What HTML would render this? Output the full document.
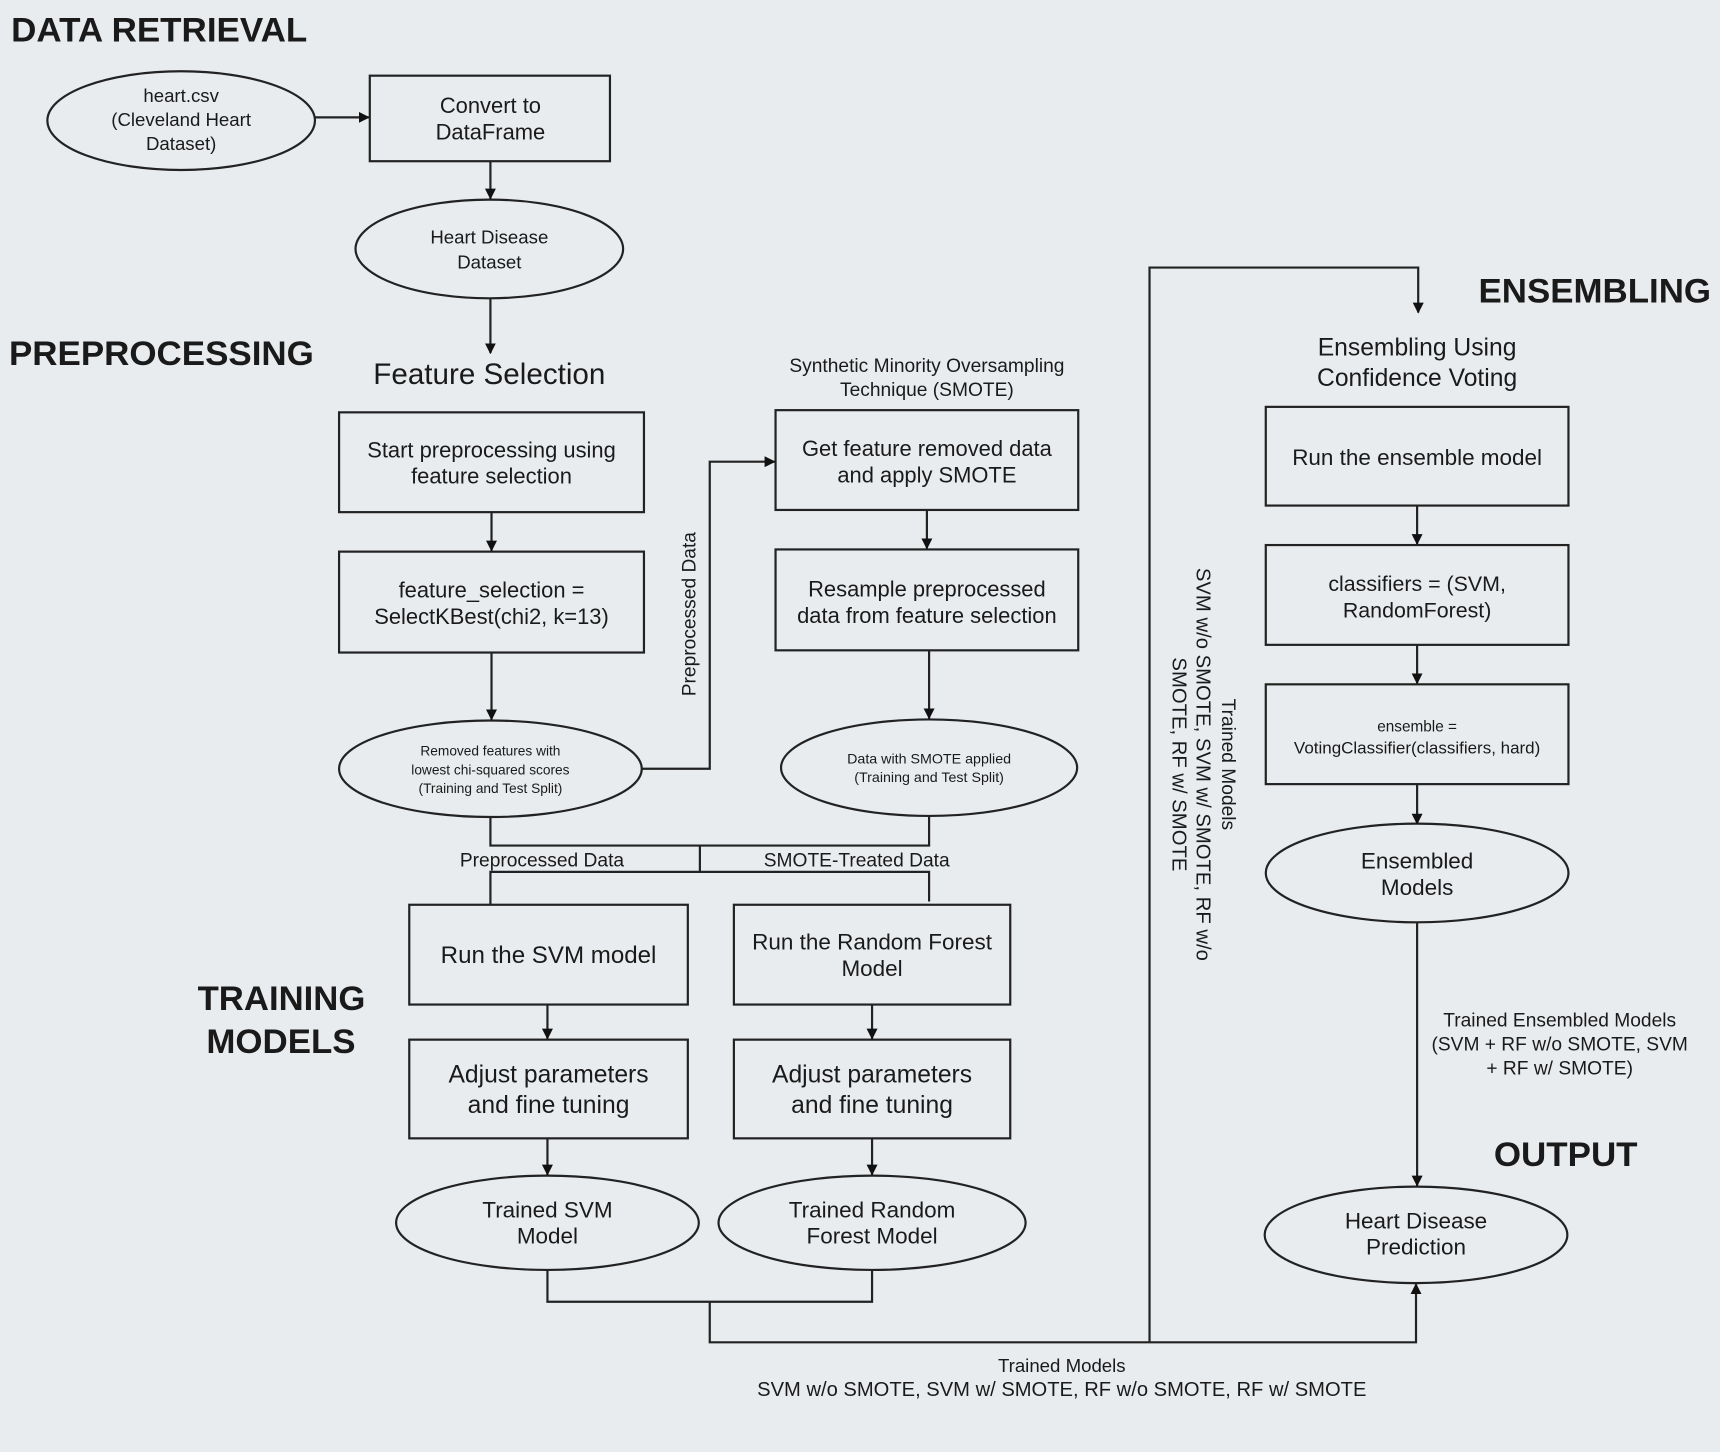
<!DOCTYPE html>
<html><head><meta charset="utf-8"><style>
html,body{margin:0;padding:0;background:#e9ecef;}
svg{display:block;}
text{font-family:"Liberation Sans",Arial,sans-serif;fill:#1a1a1a;}
.b{font-weight:bold;font-size:31px;}
</style></head><body>
<svg width="1720" height="1452" viewBox="0 0 1568 1324" xmlns="http://www.w3.org/2000/svg">
<defs><marker id="a" markerWidth="10" markerHeight="10" refX="9" refY="5" orient="auto" markerUnits="userSpaceOnUse"><path d="M0,0 L10,5 L0,10 z" fill="#111"/></marker></defs>
<rect width="1568" height="1324" fill="#e9ecef"/>
<g fill="none" stroke="#222" stroke-width="2">
<ellipse cx="165" cy="110" rx="122" ry="45"/>
<rect x="337" y="69" width="219" height="78"/>
<ellipse cx="446" cy="227" rx="122" ry="45"/>
<rect x="309" y="376" width="278" height="91"/>
<rect x="309" y="503" width="278" height="92"/>
<ellipse cx="447" cy="701" rx="138" ry="44"/>
<rect x="707" y="374" width="276" height="91"/>
<rect x="707" y="501" width="276" height="92"/>
<ellipse cx="847" cy="700" rx="135" ry="44"/>
<rect x="373" y="825" width="254" height="91"/>
<rect x="669" y="825" width="252" height="91"/>
<rect x="373" y="948" width="254" height="90"/>
<rect x="669" y="948" width="252" height="90"/>
<ellipse cx="499" cy="1115" rx="138" ry="43"/>
<ellipse cx="795" cy="1115" rx="140" ry="43"/>
<rect x="1154" y="371" width="276" height="90"/>
<rect x="1154" y="497" width="276" height="91"/>
<rect x="1154" y="624" width="276" height="91"/>
<ellipse cx="1292" cy="796" rx="138" ry="45"/>
<ellipse cx="1291" cy="1126" rx="138" ry="44"/>
</g>
<g fill="none" stroke="#222" stroke-width="2" marker-end="url(#a)">
<path d="M287,107 H336"/>
<path d="M447,147 V181"/>
<path d="M447,272 V322"/>
<path d="M448,467 V502"/>
<path d="M448,595 V656"/>
<path d="M585,701 H647 V421 H706"/>
<path d="M845,465 V500"/>
<path d="M847,593 V655"/>
<path d="M499,916 V947"/>
<path d="M795,916 V947"/>
<path d="M499,1038 V1071"/>
<path d="M795,1038 V1071"/>
<path d="M647,1187 V1224 H1291 V1171"/>
<path d="M1048,1224 V244 H1293 V285"/>
<path d="M1292,461 V496"/>
<path d="M1292,588 V623"/>
<path d="M1292,715 V751"/>
<path d="M1292,841 V1081"/>
</g>
<g fill="none" stroke="#222" stroke-width="2">
<path d="M447,745 V771 H847 V744"/>
<path d="M638,771 V795"/>
<path d="M447,825 V795 H847 V822"/>
<path d="M499,1158 V1187 H795 V1158"/>
</g>
<text class="b" x="10" y="38" textLength="270" lengthAdjust="spacingAndGlyphs">DATA RETRIEVAL</text>
<text class="b" x="8" y="333" textLength="278" lengthAdjust="spacingAndGlyphs">PREPROCESSING</text>
<text class="b" x="1348" y="276" textLength="212" lengthAdjust="spacingAndGlyphs">ENSEMBLING</text>
<text class="b" x="180" y="921" textLength="153" lengthAdjust="spacingAndGlyphs">TRAINING</text>
<text class="b" x="188" y="960" textLength="136" lengthAdjust="spacingAndGlyphs">MODELS</text>
<text class="b" x="1362" y="1063" textLength="131" lengthAdjust="spacingAndGlyphs">OUTPUT</text>
<g text-anchor="middle" font-size="17">
<text x="165" y="93">heart.csv</text><text x="165" y="115">(Cleveland Heart</text><text x="165" y="137">Dataset)</text>
<text x="447" y="103" font-size="20">Convert to</text><text x="447" y="127" font-size="20">DataFrame</text>
<text x="446" y="222">Heart Disease</text><text x="446" y="245">Dataset</text>
<text x="446" y="350" font-size="27">Feature Selection</text>
<text x="448" y="417" font-size="20">Start preprocessing using</text><text x="448" y="441" font-size="20">feature selection</text>
<text x="448" y="545" font-size="20">feature_selection =</text><text x="448" y="569" font-size="20">SelectKBest(chi2, k=13)</text>
<text x="447" y="689" font-size="12.5">Removed features with</text><text x="447" y="706" font-size="12.5">lowest chi-squared scores</text><text x="447" y="723" font-size="12.5">(Training and Test Split)</text>
<text x="845" y="339" font-size="17.5">Synthetic Minority Oversampling</text><text x="845" y="361" font-size="17.5">Technique (SMOTE)</text>
<text x="845" y="416" font-size="20">Get feature removed data</text><text x="845" y="440" font-size="20">and apply SMOTE</text>
<text x="845" y="544" font-size="20">Resample preprocessed</text><text x="845" y="568" font-size="20">data from feature selection</text>
<text x="847" y="696" font-size="13">Data with SMOTE applied</text><text x="847" y="713" font-size="13">(Training and Test Split)</text>
<text x="494" y="790" font-size="17.5">Preprocessed Data</text>
<text x="781" y="790" font-size="17.5">SMOTE-Treated Data</text>
<text x="500" y="878" font-size="22">Run the SVM model</text>
<text x="795" y="866" font-size="20.5">Run the Random Forest</text><text x="795" y="890" font-size="20.5">Model</text>
<text x="500" y="987" font-size="22.5">Adjust parameters</text><text x="500" y="1015" font-size="22.5">and fine tuning</text>
<text x="795" y="987" font-size="22.5">Adjust parameters</text><text x="795" y="1015" font-size="22.5">and fine tuning</text>
<text x="499" y="1110" font-size="20.5">Trained SVM</text><text x="499" y="1134" font-size="20.5">Model</text>
<text x="795" y="1110" font-size="20.5">Trained Random</text><text x="795" y="1134" font-size="20.5">Forest Model</text>
<text x="968" y="1251">Trained Models</text>
<text x="968" y="1273" font-size="18.4">SVM w/o SMOTE, SVM w/ SMOTE, RF w/o SMOTE, RF w/ SMOTE</text>
<text x="1292" y="324" font-size="22.5">Ensembling Using</text><text x="1292" y="352" font-size="22.5">Confidence Voting</text>
<text x="1292" y="424" font-size="20.5">Run the ensemble model</text>
<text x="1292" y="539" font-size="19.5">classifiers = (SVM,</text><text x="1292" y="563" font-size="19.5">RandomForest)</text>
<text x="1292" y="667" font-size="14">ensemble =</text><text x="1292" y="687" font-size="15.5">VotingClassifier(classifiers, hard)</text>
<text x="1292" y="792" font-size="20.5">Ensembled</text><text x="1292" y="816" font-size="20.5">Models</text>
<text x="1291" y="1120" font-size="20.5">Heart Disease</text><text x="1291" y="1144" font-size="20.5">Prediction</text>
<text x="1422" y="936" font-size="17.5">Trained Ensembled Models</text><text x="1422" y="958" font-size="17.5">(SVM + RF w/o SMOTE, SVM</text><text x="1422" y="980" font-size="17.5">+ RF w/ SMOTE)</text>
<text transform="translate(634,560) rotate(-90)" font-size="17.5">Preprocessed Data</text>
<text transform="translate(1114,697) rotate(90)" font-size="17.5">Trained Models</text>
<text transform="translate(1091,697) rotate(90)" font-size="18.5">SVM w/o SMOTE, SVM w/ SMOTE, RF w/o</text>
<text transform="translate(1069,697) rotate(90)" font-size="18.5">SMOTE, RF w/ SMOTE</text>
</g>
</svg>
</body></html>
